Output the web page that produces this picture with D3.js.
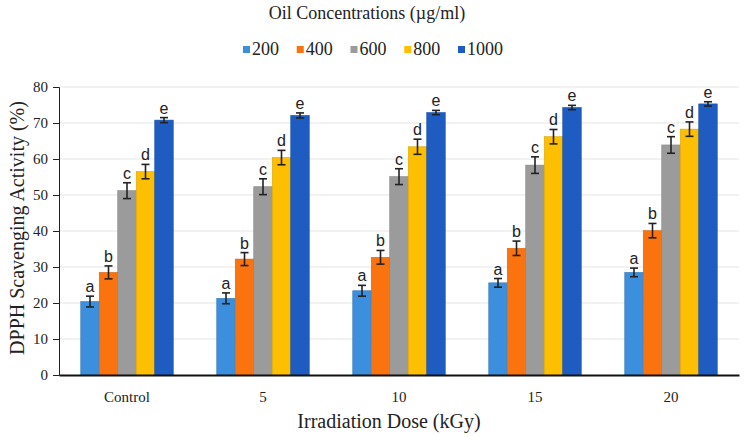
<!DOCTYPE html>
<html>
<head>
<meta charset="utf-8">
<title>DPPH scavenging activity</title>
<script src="https://cdn.jsdelivr.net/npm/d3@7"></script>
<style>
  body { margin: 0; background: #fff; }
  svg text { fill: #222; }
</style>
</head>
<body>
<div id="chart"></div>
<script>
var doses = ["Control", "5", "10", "15", "20"];
var concs = ["200", "400", "600", "800", "1000"];
var colors = ["#3b8fdc", "#fb730f", "#9b9b9b", "#fdbf00", "#1e5cc2"];
var letters = ["a", "b", "c", "d", "e"];
var yTicks = [0, 10, 20, 30, 40, 50, 60, 70, 80];

// mean values per concentration, one entry per dose
var v200  = [20.4, 21.3, 23.4, 25.6, 28.5];
var v400  = [28.5, 32.2, 32.7, 35.2, 40.1];
var v600  = [51.2, 52.3, 55.1, 58.3, 63.9];
var v800  = [56.5, 60.4, 63.4, 66.2, 68.3];
var v1000 = [70.8, 72.1, 72.9, 74.3, 75.3];

// error (+/-)
var e200  = [1.5, 1.5, 1.5, 1.2, 1.2];
var e400  = [1.8, 1.8, 1.9, 2.0, 2.0];
var e600  = [2.2, 2.2, 2.2, 2.3, 2.3];
var e800  = [2.0, 2.0, 2.1, 2.0, 2.0];
var e1000 = [0.7, 0.7, 0.6, 0.6, 0.6];

var values = [v200, v400, v600, v800, v1000];
var errors = [e200, e400, e600, e800, e1000];

var serif = "'Liberation Serif', 'Times New Roman', serif";
var sans = "'Liberation Sans', Arial, sans-serif";

var W = 744, H = 437;
var margin = {top: 87, right: 5, bottom: 62, left: 59};
var width = W - margin.left - margin.right,
    height = H - margin.top - margin.bottom;

var svg = d3.select("#chart").append("svg")
    .attr("width", W).attr("height", H);

var g = svg.append("g")
    .attr("transform", "translate(" + margin.left + "," + margin.top + ")");

var x0 = d3.scaleBand().domain(doses).range([0, width]).paddingInner(0.32).paddingOuter(0.16);
var x1 = d3.scaleBand().domain(concs).range([0, x0.bandwidth()]);
var y = d3.scaleLinear().domain([0, 80]).range([height, 0]);

// gridlines
g.append("g").selectAll("line").data(yTicks.slice(1)).join("line")
    .attr("x1", 0).attr("x2", width)
    .attr("y1", d => y(d)).attr("y2", d => y(d))
    .attr("stroke", "#e5e5e5").attr("stroke-width", 1.2);

// flat table for the bars
var rows = [];
doses.forEach(function(d, i) {
  concs.forEach(function(c, j) {
    rows.push({dose: d, conc: c, j: j, v: values[j][i], e: errors[j][i]});
  });
});

g.append("g").selectAll("rect").data(rows).join("rect")
    .attr("x", d => x0(d.dose) + x1(d.conc))
    .attr("y", d => y(d.v))
    .attr("width", x1.bandwidth())
    .attr("height", d => height - y(d.v))
    .attr("fill", d => colors[d.j])
    .attr("stroke", d => d3.color(colors[d.j]).darker(0.4))
    .attr("stroke-width", 0.6);

// error bars
var eb = g.append("g").attr("stroke", "#222").attr("stroke-width", 1.6);
rows.forEach(function(d) {
  var cx = x0(d.dose) + x1(d.conc) + x1.bandwidth() / 2;
  eb.append("line").attr("x1", cx).attr("x2", cx).attr("y1", y(d.v + d.e)).attr("y2", y(d.v - d.e));
  eb.append("line").attr("x1", cx - 4).attr("x2", cx + 4).attr("y1", y(d.v + d.e)).attr("y2", y(d.v + d.e));
  eb.append("line").attr("x1", cx - 4).attr("x2", cx + 4).attr("y1", y(d.v - d.e)).attr("y2", y(d.v - d.e));
});

// significance letters
g.append("g").selectAll("text").data(rows).join("text")
    .attr("x", d => x0(d.dose) + x1(d.conc) + x1.bandwidth() / 2)
    .attr("y", d => y(d.v + d.e) - 4)
    .attr("text-anchor", "middle")
    .style("font-family", sans)
    .style("font-size", "16px")
    .text(d => letters[d.j]);

// axes
var yAxis = g.append("g")
    .call(d3.axisLeft(y).tickValues(yTicks).tickSize(6).tickPadding(5));
yAxis.selectAll("text").style("font-family", serif).style("font-size", "15px");
yAxis.selectAll("line, path").attr("stroke", "#222");

var xAxis = g.append("g").attr("transform", "translate(0," + height + ")")
    .call(d3.axisBottom(x0).tickSize(0).tickPadding(16));
xAxis.select(".domain").attr("stroke", "#111").attr("stroke-width", 2);
xAxis.selectAll("text").style("font-family", serif).style("font-size", "15px");

// titles
svg.append("text").attr("x", 367).attr("y", 19).attr("text-anchor", "middle")
    .style("font-family", serif).style("font-size", "18px")
    .text("Oil Concentrations (µg/ml)");

svg.append("text").attr("x", 389).attr("y", 428).attr("text-anchor", "middle")
    .style("font-family", serif).style("font-size", "20px")
    .text("Irradiation Dose (kGy)");

svg.append("text")
    .attr("transform", "translate(24,228) rotate(-90)")
    .attr("text-anchor", "middle")
    .style("font-family", serif).style("font-size", "20px")
    .text("DPPH Scavenging Activity (%)");

// legend
var legX = d3.scalePoint().domain(concs).range([243, 458]);
var leg = svg.append("g").selectAll("g").data(concs).join("g")
    .attr("transform", d => "translate(" + legX(d) + ",55)");
leg.append("rect").attr("x", 0).attr("y", -9).attr("width", 7).attr("height", 7)
    .attr("fill", (d, i) => colors[i]);
leg.append("text").attr("x", 9).attr("y", 0)
    .style("font-family", serif).style("font-size", "18px")
    .text(d => d);
</script>
</body>
</html>
